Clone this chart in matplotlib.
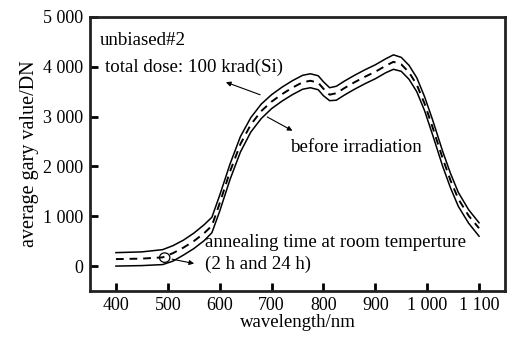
import matplotlib
matplotlib.use("Agg")
import matplotlib.pyplot as plt
from matplotlib.patches import Ellipse

# ---- data ----
wavelength = [400, 450, 490, 510, 530, 550, 570, 585, 600, 620, 640, 660, 680, 700,
              720, 740, 760, 775, 790, 800, 812, 825, 840, 860, 880, 900, 920, 935, 950,
              965, 980, 995, 1010, 1030, 1045, 1060, 1080, 1100]
after_dose = [270, 285, 330, 410, 520, 660, 830, 980, 1420, 2050, 2600, 2980, 3250, 3440,
              3590, 3720, 3830, 3860, 3820, 3700, 3580, 3610, 3710, 3830, 3940, 4040, 4160, 4240, 4190,
              4030, 3780, 3400, 2950, 2300, 1860, 1480, 1130, 870]
annealing = [140, 150, 175, 260, 370, 500, 660, 810, 1260, 1900, 2450, 2840, 3110, 3300,
             3450, 3580, 3690, 3720, 3680, 3560, 3440, 3470, 3570, 3690, 3800, 3900, 4020, 4100, 4050,
             3890, 3640, 3260, 2800, 2160, 1720, 1350, 1010, 760]
before_irr = [0, 10, 30, 100, 220, 350, 510, 670, 1100, 1740, 2290, 2690, 2960, 3160,
              3310, 3440, 3550, 3580, 3540, 3420, 3320, 3330, 3430, 3550, 3660, 3760, 3880, 3950, 3910,
              3750, 3500, 3120, 2650, 2000, 1570, 1200, 860, 600]

xticks = [400, 500, 600, 700, 800, 900, 1000, 1100]
xtick_labels = ["400", "500", "600", "700", "800", "900", "1 000", "1 100"]
yticks = [0, 1000, 2000, 3000, 4000, 5000]
ytick_labels = ["0", "1 000", "2 000", "3 000", "4 000", "5 000"]

plt.rcParams['font.family'] = ['Liberation Serif', 'DejaVu Serif']
FS = 13
TS = 13.6

fig = plt.figure(figsize=(5.07, 3.37), dpi=100)
ax = fig.add_axes([0.1775, 0.1365, 0.8185, 0.8131])

ax.plot(wavelength, after_dose, color='black', lw=1.1, solid_joinstyle='round')
ax.plot(wavelength, annealing, color='black', lw=1.4, linestyle=(0, (4, 3)))
ax.plot(wavelength, before_irr, color='black', lw=1.1, solid_joinstyle='round')

ax.set_xlim(350, 1150)
ax.set_ylim(-500, 5000)
ax.set_xticks(xticks)
ax.set_xticklabels(xtick_labels)
ax.set_yticks(yticks)
ax.set_yticklabels(ytick_labels)
ax.tick_params(direction='in', length=6, width=2, labelsize=FS, colors='black')
ax.tick_params(axis='y', pad=5)
ax.tick_params(axis='x', pad=4)
for s in ax.spines.values():
    s.set_linewidth(2)
    s.set_color('#222222')

ax.set_xlabel("wavelength/nm", fontsize=FS + 0.5, labelpad=0)
ax.set_ylabel("average gary value/DN", fontsize=FS + 1.5, labelpad=3)

ax.text(369, 4520, "unbiased#2", fontsize=TS, ha='left', va='center')
ax.text(379, 3980, "total dose: 100 krad(Si)", fontsize=TS, ha='left', va='center')
ax.text(735, 2380, "before irradiation", fontsize=TS, ha='left', va='center')
ax.text(572, 470, "annealing time at room temperture", fontsize=TS, ha='left', va='center')
ax.text(572, 30, "(2 h and 24 h)", fontsize=TS, ha='left', va='center')

arrow = dict(arrowstyle='-|>', color='black', lw=0.8, mutation_scale=7)
ax.annotate("", xy=(607, 3710), xytext=(683, 3420), arrowprops=arrow)
ax.annotate("", xy=(745, 2690), xytext=(687, 3020), arrowprops=arrow)
ax.add_patch(Ellipse((494, 170), 20, 190, fill=False, lw=0.9, color='black'))
ax.annotate("", xy=(556, 40), xytext=(503, 150), arrowprops=arrow)

fig.savefig("out.png", dpi=100)
